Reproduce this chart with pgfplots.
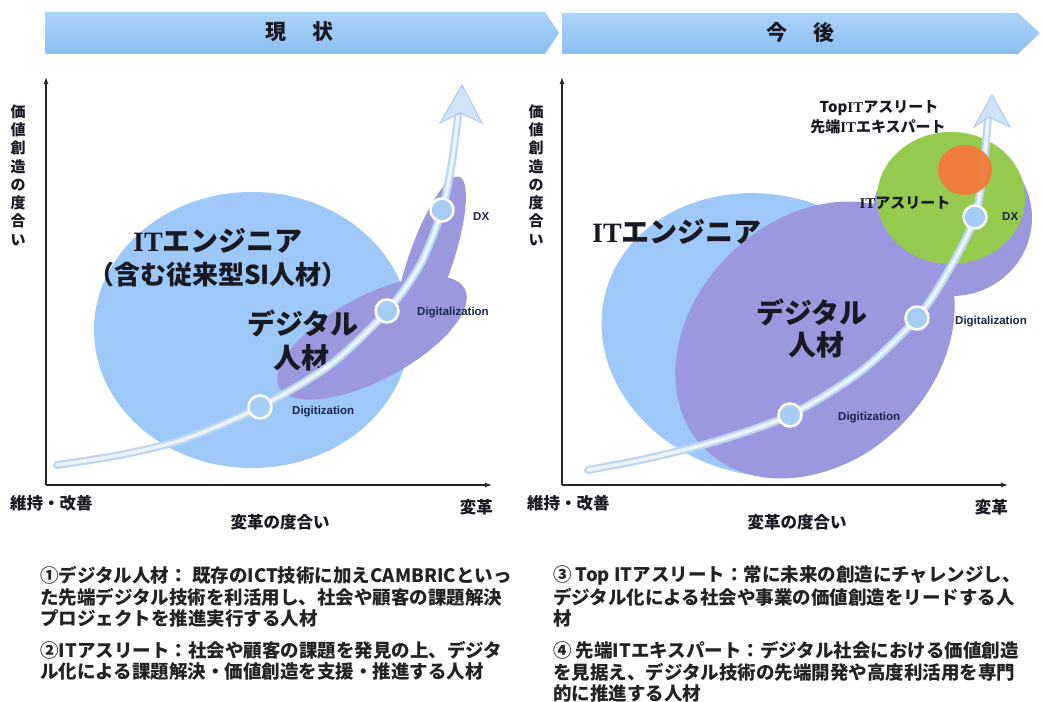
\documentclass[border=0pt]{standalone}
\usepackage{pgfplots}
\pgfplotsset{compat=1.18}
\usetikzlibrary{arrows.meta}
\usepackage{fontspec}
\setmainfont{Noto Sans CJK JP}
\newfontfamily\itserif{Liberation Serif}
\newfontfamily\lsans{Liberation Sans}
\definecolor{bannerT}{RGB}{172,212,249}
\definecolor{bannerB}{RGB}{140,190,241}
\definecolor{itblue}{RGB}{157,200,247}
\definecolor{dpurple}{RGB}{155,152,221}
\definecolor{agreen}{RGB}{150,202,78}
\definecolor{torange}{RGB}{244,122,58}
\definecolor{curveout}{RGB}{188,214,243}
\definecolor{curvein}{RGB}{236,244,253}
\definecolor{mk}{RGB}{165,205,246}
\definecolor{txt}{RGB}{25,25,35}
\definecolor{navy}{RGB}{25,35,75}
\definecolor{arrowfill}{RGB}{205,225,247}
\definecolor{arrowdraw}{RGB}{170,202,240}
\tikzset{
  big/.style={font=\fontsize{28bp}{30bp}\selectfont\bfseries, text=txt, inner sep=0pt},
  mid/.style={font=\fontsize{26bp}{28bp}\selectfont\bfseries, text=txt, inner sep=0pt},
  lab/.style={font=\lsans\bfseries\fontsize{11.5bp}{13bp}\selectfont, text=navy, inner sep=0pt},
  sm/.style={font=\fontsize{15bp}{17bp}\selectfont\bfseries, text=txt, inner sep=0pt},
  ax/.style={font=\fontsize{16.5bp}{18bp}\selectfont\bfseries, text=txt, inner sep=0pt},
  bt/.style={font=\fontsize{18.5bp}{20bp}\selectfont\bfseries, text={rgb,255:red,35;green,35;blue,35}, inner sep=0pt, anchor=west},
}
\pgfplotsset{panel/.style={scale only axis, width=446bp, height=408bp, anchor=south west,
  axis lines=left, xtick=\empty, ytick=\empty, clip=false,
  ymin=217, ymax=625,
  axis line style={line width=1.2bp, black!85, -{Latex[length=7bp,width=5bp]}}}}
\begin{document}
\begin{tikzpicture}
\path (0,0) rectangle (1044bp,702bp);
% banners
\shade[top color=bannerT, bottom color=bannerB] (45bp,690bp) -- (545bp,690bp) -- (559bp,669bp) -- (545bp,648bp) -- (45bp,648bp) -- cycle;
\shade[top color=bannerT, bottom color=bannerB] (562bp,689bp) -- (1018bp,689bp) -- (1040bp,669bp) -- (1018bp,648bp) -- (562bp,648bp) -- cycle;
\node[font=\fontsize{21bp}{22bp}\selectfont\bfseries, text=txt, inner sep=0] at (299bp,670bp) {現\hspace{26bp}状};
\node[font=\fontsize{21bp}{22bp}\selectfont\bfseries, text=txt, inner sep=0] at (800bp,670bp) {今\hspace{26bp}後};

% ---------------- left panel
\begin{axis}[panel, at={(46bp,217bp)}, xmin=46, xmax=492]
\fill[itblue] (axis cs:252,372) ellipse [x radius=158bp, y radius=138bp];
\fill[dpurple, rotate around={28:(axis cs:372,364)}] (axis cs:372,364) ellipse [x radius=105bp, y radius=42bp];
\fill[dpurple, rotate around={71:(axis cs:430,440)}] (axis cs:430,440) ellipse [x radius=90bp, y radius=22bp];
\node[big, anchor=west] at (axis cs:133,461) {{\itserif IT}エンジニア};
\node[mid, anchor=west] at (axis cs:88,427) {（含む従来型SI人材）};
\node[big] at (axis cs:303,379) {デジタル};
\node[big] at (axis cs:301,344) {人材};
\addplot[smooth, line width=8bp, line cap=round, curveout] coordinates {(57,237) (120,247) (185,263) (260,295) (330,337) (387,391) (420,437) (442,492) (452,540) (458,586)};
\addplot[smooth, line width=3.5bp, line cap=round, curvein] coordinates {(57,237) (120,247) (185,263) (260,295) (330,337) (387,391) (420,437) (442,492) (452,540) (458,586)};
\addplot[fill=arrowfill, draw=arrowdraw, line width=1bp, fill opacity=0.9] coordinates {(462,617) (482,579) (460,589) (440,579)} -- cycle;
\addplot[only marks, mark=*, mark size=11.5bp, mark options={fill=mk, draw=white, line width=2.5bp}] coordinates {(260,295) (387,391) (442,492)};
\node[lab, anchor=west] at (axis cs:292,290) {Digitization};
\node[lab, anchor=west] at (axis cs:417,389) {Digitalization};
\node[lab, anchor=west] at (axis cs:473,485) {DX};
\end{axis}

% ---------------- right panel
\begin{axis}[panel, at={(562bp,217bp)}, xmin=562, xmax=1008]
\fill[itblue, rotate around={-15:(axis cs:765,367)}] (axis cs:765,367) ellipse [x radius=165bp, y radius=140bp];
\fill[dpurple] (axis cs:952,484) ellipse [x radius=80bp, y radius=78bp];
\fill[dpurple, rotate around={44:(axis cs:815,362)}] (axis cs:815,362) ellipse [x radius=155bp, y radius=121bp];
\fill[agreen] (axis cs:951,504) ellipse [x radius=74bp, y radius=66bp];
\node[big, anchor=west] at (axis cs:592,470) {{\itserif IT}エンジニア};
\node[big] at (axis cs:812,390) {デジタル};
\node[big] at (axis cs:816,357) {人材};
\addplot[smooth, line width=8bp, line cap=round, curveout] coordinates {(588,232) (650,244) (720,262) (790,287) (860,330) (917,384) (950,434) (975,485) (984,540) (988,586)};
\addplot[smooth, line width=3.5bp, line cap=round, curvein] coordinates {(588,232) (650,244) (720,262) (790,287) (860,330) (917,384) (950,434) (975,485) (984,540) (988,586)};
\fill[torange, opacity=0.95] (axis cs:965,532) ellipse [x radius=27bp, y radius=25bp];
\addplot[fill=arrowfill, draw=arrowdraw, line width=1bp, fill opacity=0.9] coordinates {(992,607) (1010,575) (989,585) (974,575)} -- cycle;
\addplot[only marks, mark=*, mark size=11.5bp, mark options={fill=mk, draw=white, line width=2.5bp}] coordinates {(790,287) (917,384) (975,485)};
\node[sm] at (axis cs:879,594) {Top{\itserif IT}アスリート};
\node[sm] at (axis cs:878,575) {先端{\itserif IT}エキスパート};
\node[sm] at (axis cs:905,499) {{\itserif IT}アスリート};
\node[lab, anchor=west] at (axis cs:838,284) {Digitization};
\node[lab, anchor=west] at (axis cs:955,380) {Digitalization};
\node[lab, anchor=west] at (axis cs:1002,485) {DX};
\end{axis}

% axis texts
\node[ax, align=center, font=\fontsize{15bp}{18.3bp}\selectfont\bfseries] at (18bp,527bp) {価\\値\\創\\造\\の\\度\\合\\い};
\node[ax, align=center, font=\fontsize{15bp}{18.3bp}\selectfont\bfseries] at (536bp,527bp) {価\\値\\創\\造\\の\\度\\合\\い};
\node[ax, anchor=west] at (10bp,199bp) {維持・改善};
\node[ax, anchor=east] at (493bp,195bp) {変革};
\node[ax] at (280bp,180bp) {変革の度合い};
\node[ax, anchor=west] at (527bp,199bp) {維持・改善};
\node[ax, anchor=east] at (1008bp,195bp) {変革};
\node[ax] at (797bp,180bp) {変革の度合い};

% bottom descriptions
\node[bt] at (40bp,127bp) {①デジタル人材： 既存のICT技術に加えCAMBRICといっ};
\node[bt] at (40bp,105bp) {た先端デジタル技術を利活用し、社会や顧客の課題解決};
\node[bt] at (40bp,84bp) {プロジェクトを推進実行する人材};
\node[bt] at (40bp,52bp) {②ITアスリート：社会や顧客の課題を発見の上、デジタ};
\node[bt] at (40bp,30bp) {ル化による課題解決・価値創造を支援・推進する人材};
\node[bt] at (553bp,127bp) {③ Top ITアスリート：常に未来の創造にチャレンジし、};
\node[bt] at (553bp,105bp) {デジタル化による社会や事業の価値創造をリードする人};
\node[bt] at (553bp,84bp) {材};
\node[bt] at (553bp,52bp) {④ 先端ITエキスパート：デジタル社会における価値創造};
\node[bt] at (553bp,30bp) {を見据え、デジタル技術の先端開発や高度利活用を専門};
\node[bt] at (553bp,9bp) {的に推進する人材};
\end{tikzpicture}
\end{document}
